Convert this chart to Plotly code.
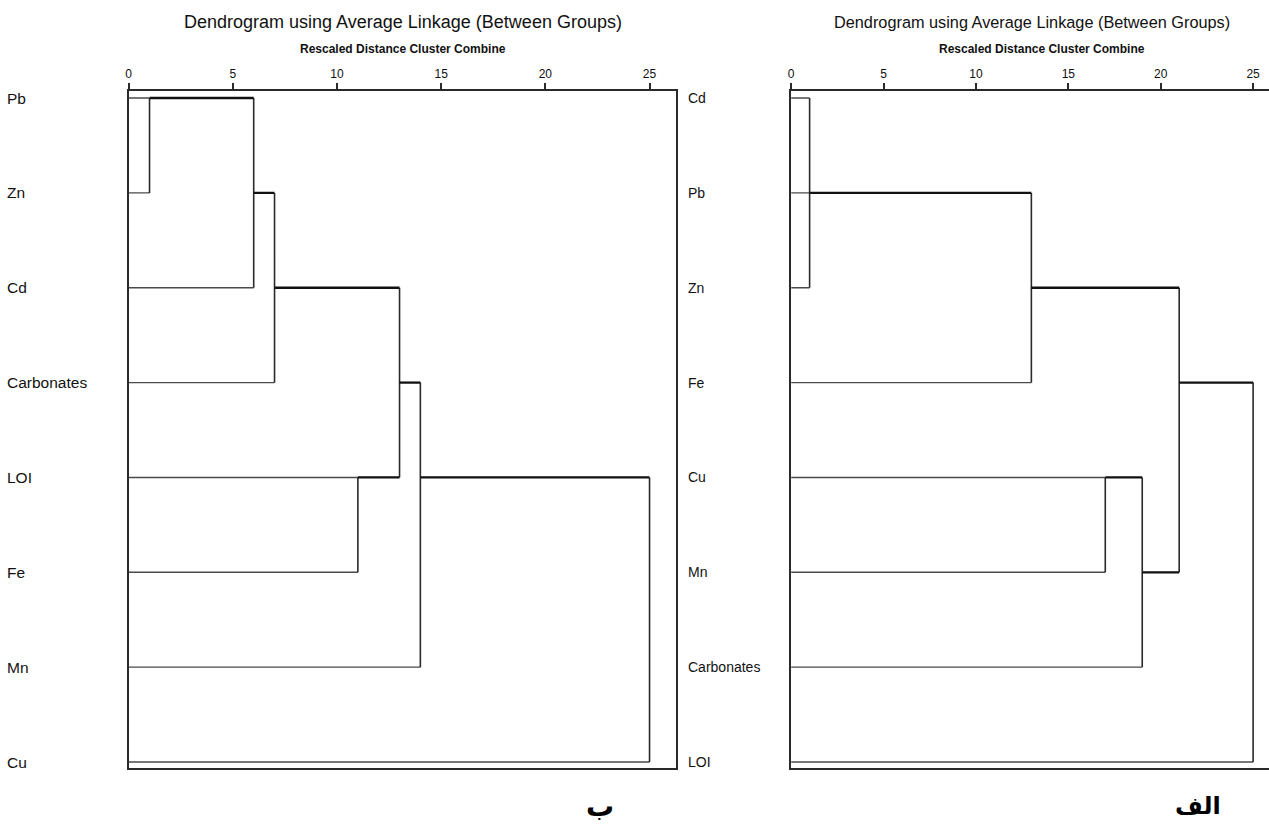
import plotly.graph_objects as go

# ---------------- data ----------------
left_leaves = ["Pb", "Zn", "Cd", "Carbonates", "LOI", "Fe", "Mn", "Cu"]
# each merge: (children, rescaled distance, row the new cluster continues from)
left_merges = [
    (["L0", "L1"], 1, 0),
    (["M0", "L2"], 6, 1),
    (["M1", "L3"], 7, 2),
    (["L4", "L5"], 11, 4),
    (["M2", "M3"], 13, 3),
    (["M4", "L6"], 14, 4),
    (["M5", "L7"], 25, None),
]

right_leaves = ["Cd", "Pb", "Zn", "Fe", "Cu", "Mn", "Carbonates", "LOI"]
right_merges = [
    (["L0", "L1", "L2"], 1, 1),
    (["M0", "L3"], 13, 2),
    (["L4", "L5"], 17, 4),
    (["M2", "L6"], 19, 5),
    (["M1", "M3"], 21, 3),
    (["M4", "L7"], 25, None),
]

tick_vals = [0, 5, 10, 15, 20, 25]
title_text = "Dendrogram using Average Linkage (Between Groups)"
subtitle_text = "Rescaled Distance Cluster Combine"
left_tag = "ب"
right_tag = "الف"

SANS = "Liberation Sans, Arial, sans-serif"


def build_segments(merges):
    pos = {}
    leaf_h = ([], [])
    clus_h = ([], [])
    vert = ([], [])
    for i, (children, h, rep) in enumerate(merges):
        rows = []
        for c in children:
            if c[0] == "L":
                r, x0, tgt = int(c[1:]), 0, leaf_h
            else:
                r, x0 = pos[c]
                tgt = clus_h
            tgt[0].extend([x0, h, None])
            tgt[1].extend([r, r, None])
            rows.append(r)
        vert[0].extend([h, h, None])
        vert[1].extend([min(rows), max(rows), None])
        pos["M%d" % i] = (rep, h)
    return leaf_h, clus_h, vert


fig = go.Figure()

W, H = 1269, 840
panels = [
    dict(leaves=left_leaves, merges=left_merges, xa="x", ya="y",
         label_dx=-0.226, label_size=15.5, title_size=18, title_x=0.5, sub_x=0.5),
    dict(leaves=right_leaves, merges=right_merges, xa="x2", ya="y2",
         label_dx=-0.221, label_size=14, title_size=16.3, title_x=0.505, sub_x=0.526),
]

for p in panels:
    leaf_h, clus_h, vert = build_segments(p["merges"])
    for (xs, ys), col, w in [(leaf_h, "#4a4a4a", 1.4), (vert, "#2a2a2a", 1.6), (clus_h, "#111111", 2.3)]:
        fig.add_trace(go.Scatter(x=xs, y=ys, mode="lines", xaxis=p["xa"], yaxis=p["ya"],
                                 line=dict(color=col, width=w), hoverinfo="skip",
                                 showlegend=False))
    xd = p["xa"] + " domain"
    for i, name in enumerate(p["leaves"]):
        fig.add_annotation(text=name, xref=xd, yref=p["ya"], x=p["label_dx"], y=i,
                           xanchor="left", yanchor="middle", showarrow=False,
                           font=dict(family=SANS, size=p["label_size"], color="#111"))
    fig.add_annotation(text=title_text, xref=xd, yref="paper", x=p["title_x"], y=1 - 22 / H,
                       xanchor="center", yanchor="middle", showarrow=False,
                       font=dict(family=SANS, size=p["title_size"], color="#111"))
    fig.add_annotation(text="<b>" + subtitle_text + "</b>", xref=xd, yref="paper",
                       x=p["sub_x"], y=1 - 49 / H,
                       xanchor="center", yanchor="middle", showarrow=False,
                       font=dict(family=SANS, size=12, color="#111"))

ydom = [1 - 768 / H, 1 - 91 / H]
yrange = [7.063, -0.074]
axis_common = dict(showgrid=False, zeroline=False, linecolor="#2a2a2a", linewidth=1.6)

fig.update_layout(
    width=W, height=H, autosize=False,
    margin=dict(l=0, r=0, t=0, b=0),
    paper_bgcolor="white", plot_bgcolor="white",
    xaxis=dict(domain=[126 / W, 675 / W], range=[0, 26.29], side="top", anchor="y",
               tickvals=tick_vals, ticks="outside", ticklen=6, tickwidth=1.5,
               tickcolor="#2a2a2a", showline=True, mirror=True,
               tickfont=dict(family=SANS, size=12, color="#111"), **axis_common),
    yaxis=dict(domain=ydom, range=yrange, anchor="x", showticklabels=False,
               showline=True, mirror=True, ticks="", **axis_common),
    xaxis2=dict(domain=[790 / W, 1.0], range=[0, 25.86], side="top", anchor="y2",
                tickvals=tick_vals, ticks="outside", ticklen=6, tickwidth=1.5,
                tickcolor="#2a2a2a", showline=True, mirror=True,
                tickfont=dict(family=SANS, size=12, color="#111"), **axis_common),
    yaxis2=dict(domain=ydom, range=yrange, anchor="x2", showticklabels=False,
                showline=True, mirror=False, ticks="", **axis_common),
)

fig.add_annotation(text="<b>" + left_tag + "</b>", xref="paper", yref="paper",
                   x=598 / W, y=1 - 806 / H, xanchor="center", yanchor="middle",
                   showarrow=False,
                   font=dict(family="DejaVu Sans, Noto Sans, sans-serif", size=28, color="#000"))
fig.add_annotation(text="<b>" + right_tag + "</b>", xref="paper", yref="paper",
                   x=1198 / W, y=1 - 806 / H, xanchor="center", yanchor="middle",
                   showarrow=False,
                   font=dict(family="DejaVu Sans, Noto Sans, sans-serif", size=24, color="#000"))

fig.write_html("out.html", config={"displayModeBar": False},
               post_script="document.body.style.margin='0';document.body.style.overflow='hidden';")
